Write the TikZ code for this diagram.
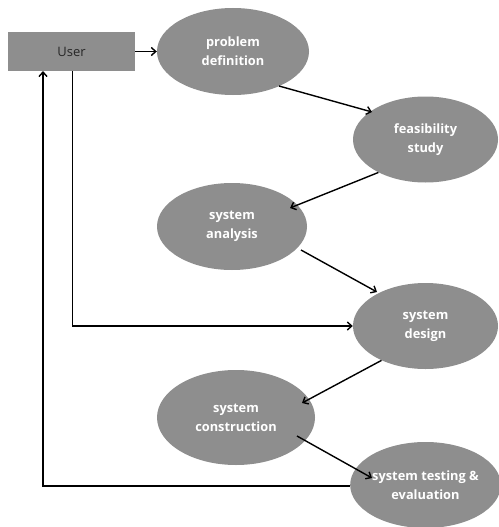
\documentclass[tikz,border=0pt]{standalone}
\usepackage{fontspec}
\setmainfont{Open Sans}
\usetikzlibrary{shapes.geometric,arrows.meta}
\definecolor{boxgray}{HTML}{8E8E8E}
\tikzset{
  proc/.style={ellipse, fill=boxgray, draw=none, inner sep=0pt, text=white,
    font=\fontsize{12.8}{19}\selectfont\bfseries, align=center},
  userbox/.style={rectangle, fill=boxgray, draw=none, inner sep=0pt, text=black!85,
    font=\fontsize{13}{15}\selectfont},
  conn/.style={line width=1.4pt, -{Straight Barb[length=4.5pt,width=8pt,line width=1.4pt]}}
}
\begin{document}
\begin{tikzpicture}[x=1pt,y=-1pt]
\useasboundingbox (0,0) rectangle (498,527);
\node[userbox, minimum width=127pt, minimum height=39pt] (user) at (71.5,51.5) {User};
\node[proc, minimum width=152pt, minimum height=87pt] (pd) at (233,51.5) {problem\\definition};
\node[proc, minimum width=145pt, minimum height=86pt] (fs) at (425.5,139.5) {feasibility\\study};
\node[proc, minimum width=150pt, minimum height=87pt] (sa) at (232,226.5) {system\\analysis};
\node[proc, minimum width=145pt, minimum height=86pt] (sd) at (425.5,326) {system\\design};
\node[proc, minimum width=158pt, minimum height=95pt] (sc) at (236,417.5) {system\\construction};
\node[proc, minimum width=145pt, minimum height=86pt] (st) at (425.5,485) {system testing \&\\evaluation};
\coordinate (u1) at (72.5,71);
\coordinate (u2) at (43,71);
\coordinate (p1) at (279,86);
\draw[conn] (user.east) -- (pd.west);
\draw[conn] (p1) -- (372,112);
\draw[conn] (fs.-145) -- (290,208);
\draw[conn] (301,250) -- (377,292);
\draw[conn] (sd.-142) -- (302,403);
\draw[conn] (297,436) -- (372,478);
\draw[conn] (u1) |- (sd.west);
\draw[conn] (st.west |- 0,486) -| (u2);
\end{tikzpicture}
\end{document}
